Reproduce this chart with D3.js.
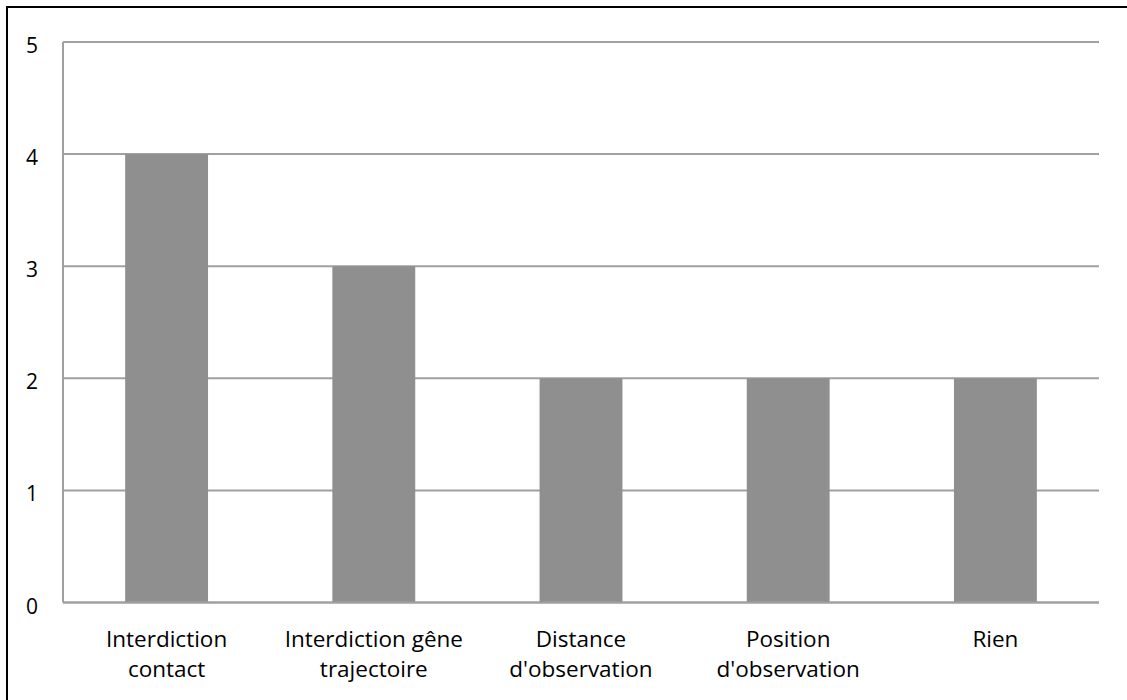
<!DOCTYPE html>
<html><head><meta charset="utf-8">
<script src="https://cdn.jsdelivr.net/npm/d3@7"></script>
<style>html,body{margin:0;padding:0;background:#fff;overflow:hidden}</style>
</head><body>
<script>
const categories = [["Interdiction","contact"],["Interdiction gêne","trajectoire"],["Distance","d'observation"],["Position","d'observation"],["Rien"]];
const values = [4,3,2,2,2];
const yTicks = [0,1,2,3,4,5];

(function(){
const W = 1127, H = 700;
const svg = d3.select("body").append("svg").attr("width", W).attr("height", H);
svg.append("rect").attr("x",7).attr("y",7).attr("width",1300).attr("height",900)
  .attr("fill","none").attr("stroke","#000").attr("stroke-width",2);

const pl = 63, pr = 1099, pt = 42, pb = 602.5;
const keys = categories.map((c,i)=>i);
const x = d3.scaleBand().domain(keys).range([pl,pr]).paddingInner(0.6).paddingOuter(0.3);
const y = d3.scaleLinear().domain([0,5]).range([pb,pt]);

const font = "'Open Sans', sans-serif";
svg.append("g").selectAll("line").data(yTicks).join("line")
  .attr("x1",pl).attr("x2",pr).attr("y1",d=>y(d)).attr("y2",d=>y(d))
  .attr("stroke","#a0a0a0").attr("stroke-width",2);
svg.append("line").attr("x1",pl).attr("x2",pl).attr("y1",pt).attr("y2",pb)
  .attr("stroke","#a0a0a0").attr("stroke-width",2);
svg.append("g").selectAll("rect").data(values).join("rect")
  .attr("x",(d,i)=>x(i)).attr("width",x.bandwidth())
  .attr("y",d=>y(d)).attr("height",d=>y(0)-y(d)).attr("fill","#8f8f8f");
svg.append("line").attr("x1",pl).attr("x2",pr).attr("y1",y(0)).attr("y2",y(0))
  .attr("stroke","#a0a0a0").attr("stroke-width",2);
svg.append("g").selectAll("text").data(yTicks).join("text")
  .attr("x",38).attr("y",d=>y(d)+11).attr("text-anchor","end")
  .attr("font-family",font).attr("font-size",21).attr("fill","#000").text(d=>d);
const xl = svg.append("g").selectAll("text").data(categories).join("text")
  .attr("text-anchor","middle").attr("font-family",font).attr("font-size",22.5).attr("fill","#000");
xl.selectAll("tspan").data((d,i)=>d.map(t=>({t,i}))).join("tspan")
  .attr("x",d=>x(d.i)+x.bandwidth()/2).attr("y",(d,j)=>647+j*30).text(d=>d.t);
})();
</script>
</body></html>
